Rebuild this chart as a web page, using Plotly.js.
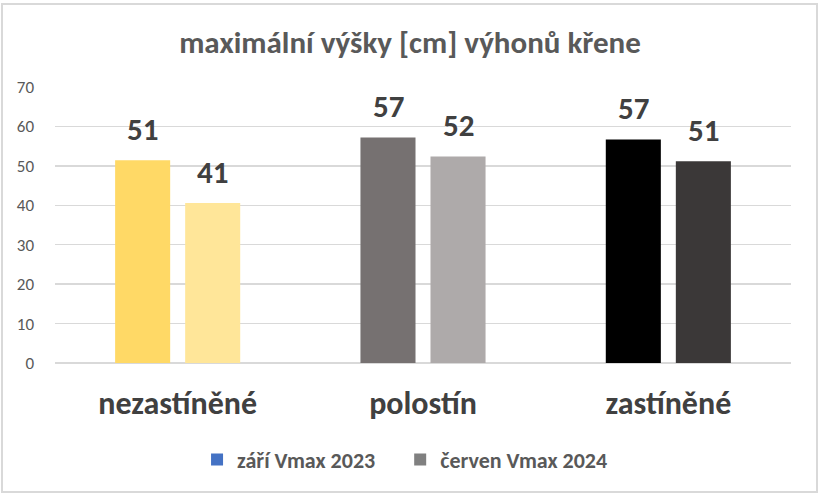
<!DOCTYPE html>
<html>
<head>
<meta charset="utf-8">
<script src="https://cdn.plot.ly/plotly-3.0.1.min.js"></script>
<style>
  body { margin: 0; background: #fff; }
  #chart { width: 820px; height: 496px; }
  #frame { position: absolute; left: 1px; top: 3px; width: 813px; height: 486px; border: 2px solid #d9d9d9; pointer-events: none; }
</style>
</head>
<body>
<div id="chart"></div>
<div id="frame"></div>
<script>
// categories and values
var categories = ['nezastíněné', 'polostín', 'zastíněné'];
var vmax2023 = [51.4, 57.2, 56.7];
var vmax2024 = [40.6, 52.4, 51.2];
var seriesNames = ['září Vmax 2023', 'červen Vmax 2024'];
var colors2023 = ['#FFD966', '#767171', '#000000'];
var colors2024 = ['#FFE699', '#AEAAAA', '#3B3838'];
var legendColors = ['#4472C4', '#808080'];

var fontFam = 'Carlito, Lato, "Open Sans", sans-serif';

var bars1 = {
    x: categories,
    y: vmax2023,
    type: 'bar',
    showlegend: false,
    marker: { color: colors2023 },
    hoverinfo: 'x+y'
};

var bars2 = {
    x: categories,
    y: vmax2024,
    type: 'bar',
    showlegend: false,
    marker: { color: colors2024 },
    hoverinfo: 'x+y'
};

// legend only entries, kept on a hidden axis pair so they don't take bar slots
var leg1 = {
    x: [categories[0]], y: [null], type: 'bar', name: seriesNames[0],
    marker: { color: legendColors[0] }, xaxis: 'x2', yaxis: 'y2', legend: 'legend'
};
var leg2 = {
    x: [categories[0]], y: [null], type: 'bar', name: seriesNames[1],
    marker: { color: legendColors[1] }, xaxis: 'x2', yaxis: 'y2', legend: 'legend2'
};

var data = [bars1, bars2, leg1, leg2];

// value labels above the bars, placed a bit higher than plotly's own outside text
var annotations = [];
var series = [vmax2023, vmax2024];
var shifts = [-35, 35];
for (var s = 0; s < series.length; s++) {
    for (var i = 0; i < categories.length; i++) {
        annotations.push({
            x: categories[i],
            y: series[s][i],
            text: '<b>' + Math.round(series[s][i]) + '</b>',
            showarrow: false,
            xshift: shifts[s],
            yshift: 10,
            yanchor: 'bottom',
            font: { family: fontFam, size: 31, color: '#404040' }
        });
    }
}

var legendFont = { family: fontFam, size: 22, color: '#595959', weight: 'bold' };

var layout = {
    width: 820,
    height: 496,
    margin: { l: 55, r: 29, t: 87, b: 133, pad: 0 },
    paper_bgcolor: '#ffffff',
    plot_bgcolor: '#ffffff',
    font: { family: fontFam, color: '#595959' },
    title: {
        text: '<b>maximální výšky [cm] výhonů křene</b>',
        font: { family: fontFam, size: 31, color: '#595959' },
        x: 0.5, xanchor: 'center',
        y: 0.915, yanchor: 'middle'
    },
    barmode: 'group',
    bargap: 0.429,
    bargroupgap: 0.214,
    annotations: annotations,
    xaxis: {
        type: 'category',
        tickfont: { family: fontFam, size: 32, color: '#404040', weight: 'bold' },
        showgrid: false,
        showline: false,
        ticks: '',
        ticklabelstandoff: 18,
        fixedrange: true
    },
    yaxis: {
        range: [0, 70],
        dtick: 10,
        gridcolor: '#d9d9d9',
        gridwidth: 1.3,
        zeroline: true,
        zerolinecolor: '#d9d9d9',
        zerolinewidth: 1.3,
        tickfont: { family: fontFam, size: 17, color: '#595959' },
        ticks: '',
        ticklabelstandoff: 20,
        fixedrange: true
    },
    xaxis2: { overlaying: 'x', visible: false, type: 'category' },
    yaxis2: { overlaying: 'y', visible: false, range: [0, 70] },
    legend: {
        orientation: 'h',
        x: 0.193, xanchor: 'left',
        y: -0.35, yanchor: 'middle',
        font: legendFont,
        itemwidth: 30
    },
    legend2: {
        orientation: 'h',
        x: 0.469, xanchor: 'left',
        y: -0.35, yanchor: 'middle',
        font: legendFont,
        itemwidth: 30
    }
};

Plotly.newPlot('chart', data, layout, { displayModeBar: false, staticPlot: true });
</script>
</body>
</html>
